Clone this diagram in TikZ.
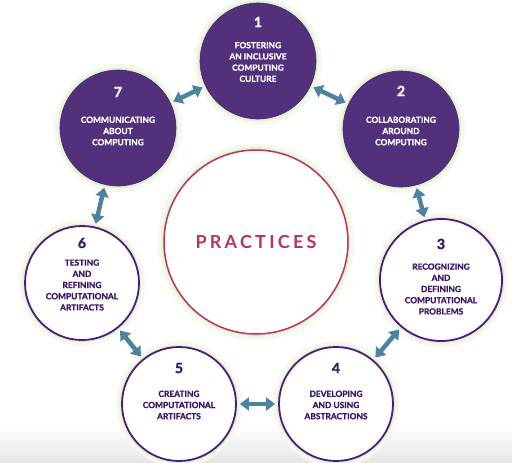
\documentclass[tikz,border=0pt]{standalone}
\usepackage{fontspec}
\setsansfont{Lato}
\usepackage{tikz}
\usetikzlibrary{arrows.meta,positioning}
\definecolor{pracpurple}{HTML}{52307C}
\definecolor{pracline}{HTML}{4A1C7C}
\definecolor{practext}{HTML}{3B1769}
\definecolor{pracarrow}{HTML}{4E83A0}
\definecolor{pracrose}{HTML}{B8345F}
\definecolor{pracglow}{HTML}{DCEBC8}
\tikzset{
  glow/.style      = {preaction={draw=pracglow!30, line width=12pt},
                      preaction={draw=pracglow!75, line width=5pt}},
  darkstep/.style  = {circle, fill=pracpurple, draw=pracpurple!85!black, line width=.6pt,
                      minimum size=116pt, inner sep=0pt, glow},
  lightstep/.style = {circle, fill=white, draw=pracline, line width=1.8pt,
                      minimum size=114pt, inner sep=0pt, glow},
  stepnum/.style   = {font=\sffamily\bfseries\fontsize{14}{14}\selectfont\addfontfeature{FakeBold=1.5}},
  steptext/.style  = {align=center,
                      font=\sffamily\bfseries\fontsize{8.4}{11.2}\selectfont\addfontfeature{FakeBold=1.2}},
  link/.style      = {{Triangle[length=9pt,width=13pt]}-{Triangle[length=9pt,width=13pt]},
                      line width=4.5pt, pracarrow, shorten >=3pt, shorten <=3pt},
}
\begin{document}
\begin{tikzpicture}[x=1pt,y=-1pt]
\useasboundingbox (0,0) rectangle (512,463);
\fill[white] (0,0) rectangle (512,463);
\fill[top color=white, bottom color=black!10] (0,425) rectangle (512,463);

% centre
\node[circle, draw=pracrose, line width=1.5pt, fill=white, minimum size=184pt, glow,
      text=pracrose, font=\sffamily\bfseries\fontsize{18}{18}\selectfont\addfontfeature{LetterSpace=18}]
      (prac) at (256,242) {PRACTICES};

% the seven practices
\node[darkstep]  (c1) at (258,61)  {};
\node[darkstep]  (c2) at (401,129) {};
\node[lightstep, minimum size=122pt] (c3) at (441,280) {};
\node[lightstep] (c4) at (336,404) {};
\node[lightstep] (c5) at (179,404) {};
\node[lightstep] (c6) at (82,283)  {};
\node[darkstep]  (c7) at (118,128) {};

\node[stepnum, white] (n1) at (258,22) {1};
\node[steptext, white] (t1) at (258,62) {FOSTERING\\AN INCLUSIVE\\COMPUTING\\CULTURE};
\node[stepnum, white] (n2) at (401,91) {2};
\node[steptext, white] (t2) at (401,131) {COLLABORATING\\AROUND\\COMPUTING};
\node[stepnum, practext] (n3) at (441,244) {3};
\node[steptext, practext] (t3) at (441,289) {RECOGNIZING\\AND\\DEFINING\\COMPUTATIONAL\\PROBLEMS};
\node[stepnum, practext] (n4) at (336,368) {4};
\node[steptext, practext] (t4) at (336,405) {DEVELOPING\\AND USING\\ABSTRACTIONS};
\node[stepnum, practext] (n5) at (179,368) {5};
\node[steptext, practext] (t5) at (179,405) {CREATING\\COMPUTATIONAL\\ARTIFACTS};
\node[stepnum, practext] (n6) at (82,243) {6};
\node[steptext, practext] (t6) at (82,285) {TESTING\\AND\\REFINING\\COMPUTATIONAL\\ARTIFACTS};
\node[stepnum, white] (n7) at (118,92) {7};
\node[steptext, white] (t7) at (118,131) {COMMUNICATING\\ABOUT\\COMPUTING};

\draw[link] (c1) -- (c2);
\draw[link] (c2) -- (c3);
\draw[link] (c3) -- (c4);
\draw[link] (c4) -- (c5);
\draw[link] (c5) -- (c6);
\draw[link] (c6) -- (c7);
\draw[link] (c7) -- (c1);
\end{tikzpicture}
\end{document}
